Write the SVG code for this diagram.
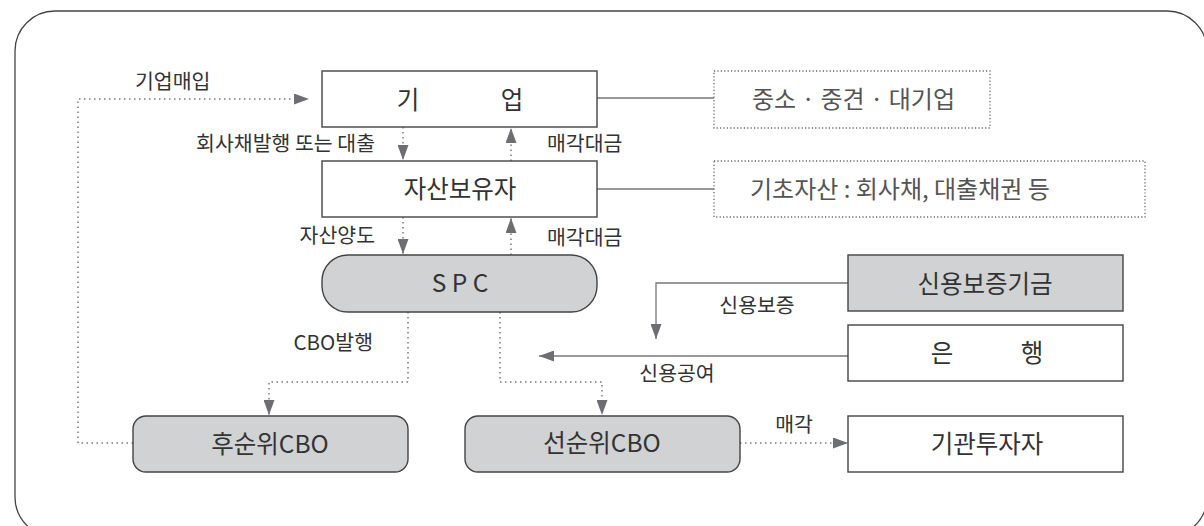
<svg xmlns="http://www.w3.org/2000/svg" width="1204" height="526" viewBox="0 0 1204 526">
<style>
text{font-family:"Noto Sans CJK KR","Noto Sans",sans-serif;fill:#333}
.box{fill:#fff;stroke:#444;stroke-width:1.4}
.gbox{fill:#d1d2d4;stroke:#444;stroke-width:1.4}
.note{fill:#fff;stroke:#666;stroke-width:1.3;stroke-dasharray:1.2 2.2}
.bt{font-size:24.5px;text-anchor:middle}
.nt{font-size:24px;fill:#555}
.lb{font-size:20.5px}
.dot{fill:none;stroke:#777;stroke-width:1.5;stroke-dasharray:1.5 3.5}
.sol{fill:none;stroke:#777;stroke-width:1.3}
.blk{fill:none;stroke:#333;stroke-width:1.2}
</style>
<defs>
<marker id="ah" markerUnits="userSpaceOnUse" markerWidth="15" markerHeight="11" refX="15" refY="5.5" orient="auto">
<path d="M0,0 L15,5.5 L0,11 z" fill="#6d6e71"/>
</marker>
</defs>
<rect x="15" y="11" width="1192" height="526" rx="40" fill="#fff" stroke="#444" stroke-width="1.3"/>
<g id="connectors">
<path class="blk" d="M597,98 H714"/>
<path class="blk" d="M597,189 H714"/>
<path class="dot" d="M133,443 H78 V99 H309" marker-end="url(#ah)"/>
<path class="dot" d="M403,127 V160" marker-end="url(#ah)"/>
<path class="dot" d="M511,161 V128" marker-end="url(#ah)"/>
<path class="dot" d="M403,217 V254" marker-end="url(#ah)"/>
<path class="dot" d="M511,255 V218" marker-end="url(#ah)"/>
<path class="dot" d="M408,312 V382 H269 V415" marker-end="url(#ah)"/>
<path class="dot" d="M500,312 V382 H602 V415" marker-end="url(#ah)"/>
<path class="dot" d="M740,443 H848" marker-end="url(#ah)"/>
<path class="sol" d="M848,283 H656 V339" marker-end="url(#ah)"/>
<path class="sol" d="M848,356 H539" marker-end="url(#ah)"/>
<text class="lb" x="135" y="89">기업매입</text>
<text class="lb" x="375" y="151" text-anchor="end">회사채발행 또는 대출</text>
<text class="lb" x="547" y="151">매각대금</text>
<text class="lb" x="375" y="243" text-anchor="end">자산양도</text>
<text class="lb" x="547" y="245">매각대금</text>
<text class="lb" x="373" y="350" text-anchor="end">CBO발행</text>
<text class="lb" x="757" y="313" text-anchor="middle">신용보증</text>
<text class="lb" x="677" y="381" text-anchor="middle">신용공여</text>
<text class="lb" x="794" y="432" text-anchor="middle">매각</text>
</g>
<g id="n-company">
<rect class="box" x="322" y="71" width="275" height="56"/>
<text class="bt" y="109"><tspan x="408">기</tspan><tspan x="512">업</tspan></text>
</g>
<g id="n-company-note">
<rect class="note" x="714" y="71" width="276" height="57"/>
<text class="nt" x="752" y="108">중소 · 중견 · 대기업</text>
</g>
<g id="n-holder">
<rect class="box" x="322" y="161" width="275" height="56"/>
<text class="bt" x="460" y="198">자산보유자</text>
</g>
<g id="n-holder-note">
<rect class="note" x="714" y="161" width="431" height="56"/>
<text class="nt" x="750" y="198">기초자산 : 회사채, 대출채권 등</text>
</g>
<g id="n-spc">
<rect class="gbox" x="322" y="255" width="275" height="57" rx="26"/>
<text class="bt" x="460" y="292" font-size="25">S P C</text>
</g>
<g id="n-kodit">
<rect class="gbox" x="848" y="255" width="275" height="56"/>
<text class="bt" x="985" y="293">신용보증기금</text>
</g>
<g id="n-bank">
<rect class="box" x="848" y="325" width="275" height="56"/>
<text class="bt" y="362"><tspan x="942">은</tspan><tspan x="1032">행</tspan></text>
</g>
<g id="n-sub">
<rect class="gbox" x="133" y="416" width="275" height="56" rx="13"/>
<text class="bt" x="270" y="453">후순위CBO</text>
</g>
<g id="n-senior">
<rect class="gbox" x="465" y="416" width="275" height="56" rx="13"/>
<text class="bt" x="602" y="452">선순위CBO</text>
</g>
<g id="n-investor">
<rect class="box" x="848" y="416" width="275" height="56"/>
<text class="bt" x="987" y="453">기관투자자</text>
</g>
</svg>
